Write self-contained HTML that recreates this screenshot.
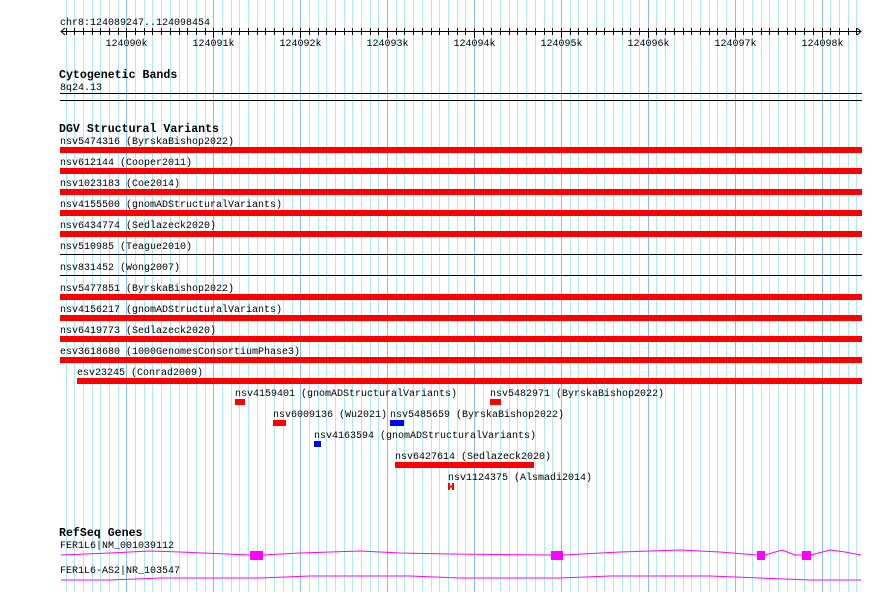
<!DOCTYPE html>
<html><head><meta charset="utf-8"><style>
html,body{margin:0;padding:0;background:#fff;}
svg{display:block;}
text{font-family:"Liberation Mono",monospace;font-size:10px;fill:#000;}
.b{font-weight:bold;font-size:11.6px;}
</style></head><body>
<svg id="s" width="890" height="592" xmlns="http://www.w3.org/2000/svg">
<g id="grid"></g>
<g id="ruler"></g>
<text x="60" y="25">chr8:124089247..124098454</text>
<text class="b" x="59" y="78">Cytogenetic Bands</text>
<text x="60" y="90">8q24.13</text>
<rect x="60" y="93" width="802" height="1" fill="#000"/>
<rect x="60" y="100" width="802" height="1" fill="#000"/>
<text class="b" x="59" y="132">DGV Structural Variants</text>
<text x="60" y="144">nsv5474316 (ByrskaBishop2022)</text>
<rect x="60" y="147" width="802" height="6" fill="#f00"/>
<text x="60" y="165">nsv612144 (Cooper2011)</text>
<rect x="60" y="168" width="802" height="6" fill="#f00"/>
<text x="60" y="186">nsv1023183 (Coe2014)</text>
<rect x="60" y="189" width="802" height="6" fill="#f00"/>
<text x="60" y="207">nsv4155500 (gnomADStructuralVariants)</text>
<rect x="60" y="210" width="802" height="6" fill="#f00"/>
<text x="60" y="228">nsv6434774 (Sedlazeck2020)</text>
<rect x="60" y="231" width="802" height="6" fill="#f00"/>
<text x="60" y="249">nsv510985 (Teague2010)</text>
<rect x="60" y="254" width="802" height="1" fill="#000"/>
<text x="60" y="270">nsv831452 (Wong2007)</text>
<rect x="60" y="275" width="802" height="1" fill="#000"/>
<text x="60" y="291">nsv5477851 (ByrskaBishop2022)</text>
<rect x="60" y="294" width="802" height="6" fill="#f00"/>
<text x="60" y="312">nsv4156217 (gnomADStructuralVariants)</text>
<rect x="60" y="315" width="802" height="6" fill="#f00"/>
<text x="60" y="333">nsv6419773 (Sedlazeck2020)</text>
<rect x="60" y="336" width="802" height="6" fill="#f00"/>
<text x="60" y="354">esv3618680 (1000GenomesConsortiumPhase3)</text>
<rect x="60" y="357" width="802" height="6" fill="#f00"/>
<text x="77" y="375">esv23245 (Conrad2009)</text>
<rect x="77" y="378" width="785" height="6" fill="#f00"/>
<text x="235" y="396">nsv4159401 (gnomADStructuralVariants)</text>
<rect x="235" y="399" width="10" height="6" fill="#f00"/>
<text x="490" y="396">nsv5482971 (ByrskaBishop2022)</text>
<rect x="490" y="399" width="11" height="6" fill="#f00"/>
<text x="273" y="417">nsv6009136 (Wu2021)</text>
<rect x="273" y="420" width="13" height="6" fill="#f00"/>
<text x="390" y="417">nsv5485659 (ByrskaBishop2022)</text>
<rect x="390" y="420" width="14" height="6" fill="#00f"/>
<text x="314" y="438">nsv4163594 (gnomADStructuralVariants)</text>
<rect x="314" y="441" width="7" height="6" fill="#00f"/>
<text x="395" y="459">nsv6427614 (Sedlazeck2020)</text>
<rect x="395" y="462" width="139" height="6" fill="#f00"/>
<text x="448" y="480">nsv1124375 (Alsmadi2014)</text>
<path d="M449 483v7M453 483v7M448 486.5h6" stroke="#f00" stroke-width="2"/>
<text class="b" x="59" y="536">RefSeq Genes</text>
<text x="60" y="548">FER1L6|NM_001039112</text>
<polyline fill="none" stroke="#f0f" stroke-width="1" points="61,555 110,553 150,551 180,552 250,555 263,555 300,553 360,551 400,553 450,554 551,555 563,555 620,552 680,550 720,552 757,555 765,555 782,550 795,555 802,555 811,555 830,550 845,552 861,555"/>
<rect x="250" y="551" width="13" height="9" fill="#f0f"/>
<rect x="551" y="551" width="12" height="9" fill="#f0f"/>
<rect x="757" y="551" width="8" height="9" fill="#f0f"/>
<rect x="802" y="551" width="9" height="9" fill="#f0f"/>
<text x="60" y="573">FER1L6-AS2|NR_103547</text>
<polyline fill="none" stroke="#f0f" stroke-width="1" points="61,580 110,580 160,578 260,578 310,576 410,576 460,578 560,578 610,576 710,576 760,578 810,580 861,580"/>
</svg>
<script>
var ns="http://www.w3.org/2000/svg",g=document.getElementById("grid"),r=document.getElementById("ruler");
function el(p,t,a){var e=document.createElementNS(ns,t);for(var k in a)e.setAttribute(k,a[k]);p.appendChild(e);return e;}
var s=0.08689,x0=61;
for(var bp=124089300;bp<=124098454;bp+=100){
 var x=Math.round(x0+(bp-124089247)*s)+0.5,maj=bp%1000==0;
 el(g,"line",{x1:x,x2:x,y1:0,y2:592,stroke:maj?"#88c0ec":"#aeeaf2","stroke-width":1});
 el(r,"line",{x1:x,x2:x,y1:28,y2:maj?38:35,stroke:"#000"});
 if(maj){var t=el(r,"text",{x:x,y:46,"text-anchor":"middle","font-size":"10.5px"});t.textContent=(bp/1000)+"k";}
}
el(r,"line",{x1:61,x2:861,y1:31.5,y2:31.5,stroke:"#000"});
el(r,"path",{d:"M65 28L61 31.5L65 35M857 28L861 31.5L857 35",stroke:"#000",fill:"none"});
</script>
</body></html>
